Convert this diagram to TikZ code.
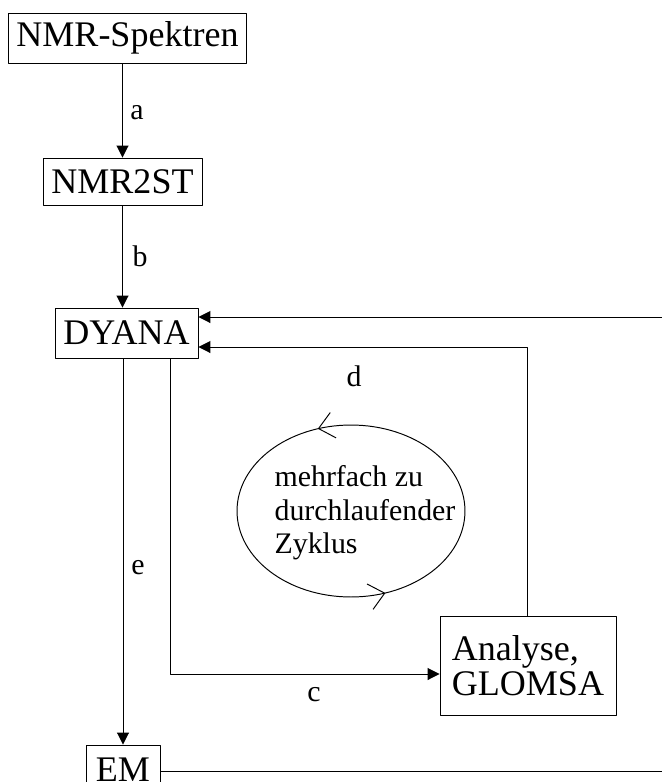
\documentclass[tikz,border=0pt]{standalone}
\usepackage{fontspec}
\setmainfont{Liberation Serif}
\usetikzlibrary{arrows.meta,decorations.markings}

\begin{document}
\begin{tikzpicture}[x=0.02cm, y=-0.02cm, >={Triangle[length=0.24cm,width=0.24cm]}, line width=0.55pt, line join=round,
	kasten/.style={draw, inner xsep=0.15cm, inner ysep=0pt, minimum height=1cm, font=\fontsize{20.5}{20}\selectfont},
	lbl/.style={inner sep=0pt, font=\fontsize{17}{19}\selectfont},
	zyklus/.style={postaction={decorate}, decoration={markings,
		mark=at position 0.303 with {\arrow{Straight Barb[length=0.3cm,width=0.52cm]}},
		mark=at position 0.805 with {\arrow{Straight Barb[length=0.3cm,width=0.52cm]}}}}]
	\useasboundingbox (0,0) rectangle (662,782);
	% Kaesten
	\node[kasten, minimum width=4.74cm] (spek) at (127.5,38) {NMR-Spektren};
	\node[kasten, minimum width=3.18cm, minimum height=0.94cm] (nmrst) at (122.5,181.5) {NMR2ST};
	\node[kasten, minimum width=2.86cm] (dyana) at (126.5,333) {DYANA};
	\node[kasten, minimum width=1.48cm] (em) at (123,770) {EM};
	\node[kasten, minimum width=3.52cm, minimum height=1.98cm, align=left] (ana) at (528,665.5) {Analyse,\\GLOMSA};
	% Knickpunkte
	\coordinate (topin) at (662,317);
	\coordinate (dturn) at (527,347);
	\coordinate (cturn) at (170,674);
	\coordinate (emout) at (662,771);
	% Pfeile
	\draw[->] (spek.south -| nmrst.north) -- (nmrst.north);
	\draw[->] (nmrst.south) -- (nmrst.south |- dyana.north);
	\draw[->] (dyana.south -| em.north) -- (em.north);
	\draw[->] (dyana.south -| cturn) -- (cturn) -- (cturn -| ana.west);
	\draw[->] (ana.north -| dturn) -- (dturn) -- (dturn -| dyana.east);
	\draw[->] (topin) -- (topin -| dyana.east);
	\draw (emout -| em.east) -- (emout);
	% Beschriftung
	\node[lbl] (la) at (137,113) {a};
	\node[lbl] (lb) at (140,256) {b};
	\node[lbl] (lc) at (314,695) {c};
	\node[lbl] (ld) at (354,376) {d};
	\node[lbl] (le) at (138,568) {e};
	% Zyklus
	\draw[zyklus] (351,511) ellipse [x radius=2.28cm, y radius=1.72cm];
	\node[lbl, align=left] (cyc) at (365,513) {mehrfach zu\\durchlaufender\\Zyklus};
\end{tikzpicture}
\end{document}
